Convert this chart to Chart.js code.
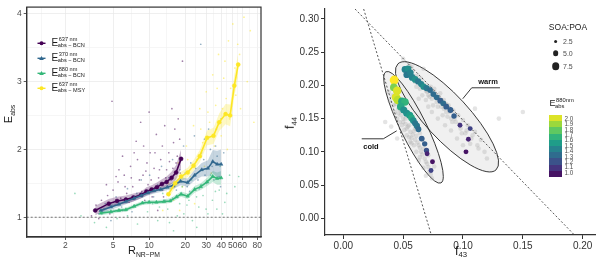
<!DOCTYPE html>
<html>
<head>
<meta charset="utf-8">
<script src="https://cdn.jsdelivr.net/npm/chart.js@4.4.1/dist/chart.umd.min.js"></script>
<style>
body{margin:0;background:#fff;font-family:"Liberation Sans",Arial,sans-serif;}
#wrap{position:relative;width:600px;height:267px;overflow:hidden;background:#fff;}
#wrap canvas{position:absolute;top:0;}
.lbl{position:absolute;white-space:nowrap;color:#1a1a1a;line-height:1;pointer-events:none;}
.lbl sub{font-size:0.62em;vertical-align:-0.35em;line-height:1;}
.rot{transform:translate(-50%,-50%) rotate(-90deg);}
.ctr{transform:translate(-50%,-50%);}
.leg{display:flex;align-items:center;}
.leg .E{font-size:10px;}
.ss{display:inline-flex;flex-direction:column;font-size:5.6px;line-height:1.05;margin-left:0.5px;}
.ss .sb{margin-left:-1px;}
.dot{position:absolute;border-radius:50%;background:#222;transform:translate(-50%,-50%);}
.small{font-size:7px;color:#4d4d4d;}
.cbar{position:absolute;left:549px;top:115px;width:13px;height:62px;display:flex;flex-direction:column;}
.cbar div{flex:1;}
</style>
</head>
<body>
<div id="wrap">
  <canvas id="leftChart" width="300" height="267" style="left:0;width:300px;height:267px"></canvas>
  <canvas id="rightChart" width="300" height="267" style="left:300px;width:300px;height:267px"></canvas>

  <!-- left panel texts -->
  <div class="lbl rot" style="left:10px;top:114px;font-size:11px">E<sub>abs</sub></div>
  <div class="lbl ctr" style="left:144px;top:252px;font-size:11px">R<sub>NR−PM</sub></div>
  <div class="lbl leg" style="left:51.5px;top:37px"><span class="E">E</span><span class="ss"><span>637 nm</span><span class="sb">abs − BCN</span></span></div>
  <div class="lbl leg" style="left:51.5px;top:52px"><span class="E">E</span><span class="ss"><span>370 nm</span><span class="sb">abs − BCN</span></span></div>
  <div class="lbl leg" style="left:51.5px;top:67px"><span class="E">E</span><span class="ss"><span>880 nm</span><span class="sb">abs − BCN</span></span></div>
  <div class="lbl leg" style="left:51.5px;top:82px"><span class="E">E</span><span class="ss"><span>637 nm</span><span class="sb">abs − MSY</span></span></div>

  <!-- right panel texts -->
  <div class="lbl rot" style="left:291px;top:123px;font-size:12.5px">f<sub>44</sub></div>
  <div class="lbl ctr" style="left:461px;top:252px;font-size:12.5px">f<sub>43</sub></div>
  <div class="lbl ctr" style="left:568px;top:27px;font-size:8.5px;color:#222">SOA:POA</div>
  <div id="sizeLegend"></div>
  <div class="lbl leg" style="left:549.5px;top:97px"><span style="font-size:9px">E</span><span class="ss" style="font-size:5.8px"><span>880nm</span><span class="sb">abs</span></span></div>
  <div class="cbar" id="cbar"></div>
  <div id="cbarLabels"></div>
</div>

<script>
// ---------- left panel: E_abs vs R_NR-PM ----------
const rTicks = [2, 5, 10, 20, 30, 40, 50, 60, 80];
const rMinor = [1.26, 3.16, 7.07, 14.1, 24.5, 34.6, 44.7, 54.8, 69.3];
const eTicks = [1, 2, 3, 4];
const eMinor = [1.5, 2.5, 3.5];

const bcn637X = [3.55, 4.6, 5.4, 6.4, 7.4, 8.6, 9.5, 10.5, 11.6, 12.8, 14.0, 15.4, 16.8, 18.5];
const bcn637Y = [1.10, 1.20, 1.24, 1.26, 1.29, 1.33, 1.38, 1.41, 1.44, 1.49, 1.52, 1.58, 1.66, 1.86];
const bcn637Lo = [1.03, 1.13, 1.18, 1.20, 1.23, 1.28, 1.32, 1.35, 1.38, 1.42, 1.44, 1.49, 1.56, 1.72];
const bcn637Hi = [1.17, 1.27, 1.30, 1.32, 1.35, 1.38, 1.44, 1.47, 1.51, 1.56, 1.60, 1.67, 1.77, 2.00];

const bcn370X = [3.95, 4.8, 5.6, 6.4, 7.5, 8.6, 9.8, 11.0, 12.5, 14.2, 16.0, 18.3, 21.0, 24.0, 27.5, 31.0, 34.0, 37.0, 40.0];
const bcn370Y = [1.10, 1.15, 1.19, 1.23, 1.28, 1.32, 1.36, 1.39, 1.41, 1.44, 1.47, 1.53, 1.51, 1.62, 1.70, 1.72, 1.82, 1.78, 1.78];
const bcn370Lo = [1.06, 1.11, 1.15, 1.19, 1.24, 1.28, 1.32, 1.35, 1.37, 1.40, 1.42, 1.47, 1.45, 1.54, 1.60, 1.60, 1.65, 1.58, 1.55];
const bcn370Hi = [1.14, 1.19, 1.23, 1.27, 1.32, 1.36, 1.40, 1.43, 1.45, 1.48, 1.52, 1.59, 1.57, 1.70, 1.80, 1.84, 1.99, 1.98, 2.00];

const bcn880X = [3.95, 4.8, 5.6, 6.4, 7.5, 8.8, 10.0, 11.5, 13.3, 15.0, 17.0, 18.5, 21.0, 24.0, 27.0, 30.5, 34.0, 37.0, 40.0];
const bcn880Y = [1.06, 1.08, 1.10, 1.11, 1.16, 1.21, 1.22, 1.22, 1.23, 1.24, 1.30, 1.34, 1.31, 1.41, 1.45, 1.52, 1.60, 1.57, 1.58];
const bcn880Lo = [1.03, 1.05, 1.07, 1.08, 1.13, 1.18, 1.19, 1.19, 1.20, 1.21, 1.26, 1.30, 1.27, 1.36, 1.40, 1.46, 1.52, 1.48, 1.48];
const bcn880Hi = [1.09, 1.11, 1.13, 1.14, 1.19, 1.24, 1.25, 1.25, 1.26, 1.28, 1.34, 1.38, 1.35, 1.46, 1.50, 1.58, 1.68, 1.66, 1.68];

const msy637X = [14.5, 16.5, 18.5, 21.0, 23.5, 26.5, 30.5, 34.5, 38.5, 43.5, 47.5, 51.5, 55.5];
const msy637Y = [1.34, 1.50, 1.60, 1.66, 1.76, 1.90, 2.17, 2.20, 2.40, 2.52, 2.50, 2.94, 3.25];
const msy637Lo = [1.28, 1.43, 1.53, 1.59, 1.68, 1.81, 2.06, 2.08, 2.27, 2.37, 2.34, 2.78, 3.08];
const msy637Hi = [1.40, 1.57, 1.67, 1.73, 1.84, 1.99, 2.28, 2.32, 2.53, 2.67, 2.66, 3.10, 3.42];

// raw observations (a readable subset of the cloud)
const bcn637Raw = [[3.3,1.02],[3.6,1.18],[3.8,0.98],[4.0,1.25],[4.2,1.12],[4.5,1.32],[4.7,1.05],[4.9,2.71],[5.0,1.40],[5.2,1.18],[5.5,1.52],[5.8,1.28],[6.0,1.10],[6.2,1.62],[6.5,1.35],[6.8,1.22],[7.0,1.75],[7.3,1.45],[7.6,1.30],[8.0,1.85],[8.3,1.55],[8.7,1.38],[9.0,2.05],[9.4,1.68],[9.8,1.48],[10.2,1.95],[10.6,1.30],[11.0,1.72],[11.5,2.22],[12.0,1.58],[12.5,1.85],[13.0,1.40],[13.5,2.35],[14.0,1.70],[14.6,1.95],[15.2,1.55],[16.0,2.10],[16.8,1.80],[17.5,2.45],[18.2,1.65],[19.0,3.30],[8.5,2.40],[6.0,1.90],[11.8,1.10],[15.5,2.60],
  [4.4,1.48],[5.6,1.70],[6.3,1.45],[7.1,1.58],[7.8,2.12],[8.9,1.62],[9.6,1.80],[10.4,1.55],[11.2,1.95],[12.2,1.70],[12.9,2.05],[13.8,1.58],[14.8,1.82],[15.8,1.72],[16.4,2.30],[17.2,1.90],[18.0,2.15],[18.8,1.85],[10.0,2.55],[7.5,1.95],[5.3,1.60],[9.2,1.25],[13.2,1.30],[16.2,1.45]];
const bcn370Raw = [[3.8,1.05],[4.3,1.20],[4.8,0.95],[5.3,1.30],[5.9,1.15],[6.6,1.42],[7.2,1.08],[7.9,1.35],[8.6,1.55],[9.3,1.22],[10.1,1.62],[10.9,1.30],[11.8,1.48],[12.7,1.75],[13.6,1.25],[14.6,1.58],[15.7,1.85],[16.9,1.40],[18.1,1.70],[19.4,2.05],[20.8,1.45],[22.3,1.80],[23.9,2.20],[25.6,1.55],[27.4,1.95],[29.3,1.62],[31.4,2.30],[33.6,1.75],[35.9,2.05],[38.4,1.60],[40.0,2.45],[27.0,3.55],[42.0,1.95],
  [20.0,1.65],[21.8,1.38],[24.5,1.72],[26.2,1.42],[28.6,1.85],[30.2,1.50],[32.5,2.00],[34.8,1.55],[37.0,1.90],[39.5,1.45],[36.5,2.30],[29.0,2.15]];
const bcn880Raw = [[3.5,0.92],[3.9,1.10],[4.4,0.85],[4.9,1.18],[5.4,0.98],[6.0,1.25],[6.6,1.02],[7.3,1.15],[8.0,0.90],[8.8,1.30],[9.7,1.08],[10.7,1.20],[11.8,0.95],[13.0,1.35],[14.3,1.12],[15.7,1.28],[17.2,1.02],[18.9,1.45],[20.7,1.18],[22.7,1.55],[24.9,1.30],[27.3,1.48],[29.9,1.12],[32.7,1.62],[35.8,1.38],[39.2,1.75],[42.9,1.22],[47.0,1.62],[52.0,1.45],[56.0,1.60],[2.7,1.02],[2.4,1.35],[16.0,0.80],[25.0,0.85],
  [19.5,1.05],[21.5,1.25],[23.0,0.95],[26.0,1.15],[28.2,1.32],[31.0,1.05],[33.8,1.25],[36.8,1.12],[38.5,1.40],[41.0,1.05],[44.5,1.35],[18.0,1.20],[14.8,0.92],[12.2,1.15]];
const msy637Raw = [[13.0,1.10],[14.5,1.50],[16.0,1.25],[17.5,1.80],[19.0,1.45],[20.5,2.05],[22.0,1.60],[23.5,2.35],[25.0,1.85],[26.5,2.60],[28.0,2.10],[30.0,2.85],[32.0,2.40],[34.0,3.10],[36.0,2.65],[38.0,3.40],[40.0,2.20],[42.0,3.05],[44.0,2.75],[46.0,3.60],[48.0,2.90],[50.0,3.85],[52.0,3.20],[55.0,3.55],[58.0,2.60],[62.0,3.95],[66.0,3.00],[70.0,3.75],[75.0,2.40],[18.0,1.10],[24.0,1.20],[33.0,1.65],[45.0,2.00],
  [21.0,1.85],[27.0,2.30],[29.0,1.75],[31.0,2.55],[35.0,2.05],[37.0,2.90],[41.0,2.60],[43.0,3.30],[47.0,2.45],[53.0,2.80],[57.0,3.40]];

const refLineE = 1;

// ---------- right panel: f44 vs f43 ----------
const f43Ticks = [0, 0.05, 0.10, 0.15, 0.20];
const f44Ticks = [0, 0.05, 0.10, 0.15, 0.20, 0.25, 0.30];

const coldF43 = [0.0425, 0.0422, 0.0450, 0.0440, 0.0455, 0.0490, 0.0515, 0.0480, 0.0505, 0.0530, 0.0555, 0.0570, 0.0585, 0.0600, 0.0615, 0.0628, 0.0655, 0.0680, 0.0695, 0.0700, 0.0745, 0.0733];
const coldF44 = [0.208, 0.197, 0.192, 0.182, 0.178, 0.176, 0.175, 0.168, 0.163, 0.158, 0.155, 0.151, 0.147, 0.143, 0.139, 0.134, 0.120, 0.112, 0.102, 0.097, 0.085, 0.072];
const coldEabs = [2.0, 1.8, 1.95, 1.95, 1.9, 1.6, 1.65, 1.6, 1.5, 1.5, 1.55, 1.6, 1.5, 1.4, 1.4, 1.35, 1.3, 1.3, 1.25, 1.1, 1.05, 1.2];
const coldSoaPoa = [7.5, 6, 7, 7, 7, 6, 6, 6, 5.5, 5.5, 5.5, 5, 5, 4.5, 4.5, 4, 4, 3.5, 3.5, 3, 3, 3];

const warmF43 = [0.0515, 0.0540, 0.0530, 0.0560, 0.0575, 0.0600, 0.0625, 0.0650, 0.0670, 0.0695, 0.0725, 0.0752, 0.0780, 0.0810, 0.0835, 0.0860, 0.0895, 0.0925, 0.0975, 0.1060, 0.1045, 0.1025];
const warmF44 = [0.224, 0.225, 0.216, 0.219, 0.212, 0.209, 0.206, 0.202, 0.198, 0.196, 0.193, 0.187, 0.182, 0.177, 0.173, 0.168, 0.163, 0.154, 0.140, 0.135, 0.119, 0.100];
const warmEabs = [1.45, 1.5, 1.4, 1.45, 1.45, 1.5, 1.4, 1.45, 1.5, 1.4, 1.35, 1.35, 1.35, 1.3, 1.35, 1.3, 1.3, 1.3, 1.15, 1.2, 1.1, 1.05];
const warmSoaPoa = [5, 5, 5, 5, 5, 5, 4.5, 4.5, 4.5, 4.5, 4, 4, 4, 4, 4, 4, 4, 3.5, 3, 3, 3, 3];

const allSamples = [[0.038,0.19],[0.041,0.185],[0.044,0.172],[0.046,0.165],[0.043,0.160],[0.048,0.155],[0.050,0.150],[0.047,0.145],[0.052,0.142],[0.054,0.138],[0.051,0.133],[0.056,0.130],[0.058,0.126],[0.055,0.122],[0.060,0.118],[0.062,0.114],[0.059,0.110],[0.064,0.106],[0.061,0.100],[0.066,0.096],[0.068,0.090],[0.063,0.087],[0.070,0.082],[0.067,0.076],[0.072,0.070],[0.069,0.064],[0.074,0.060],[0.045,0.150],[0.049,0.140],[0.053,0.125],[0.057,0.113],[0.060,0.135],[0.064,0.128],[0.035,0.145],[0.040,0.138],[0.071,0.095],[0.066,0.118],[0.058,0.147],[0.062,0.140],[0.076,0.078],
  [0.042,0.170],[0.046,0.158],[0.050,0.145],[0.053,0.135],[0.055,0.140],[0.057,0.121],[0.061,0.124],[0.063,0.110],[0.065,0.100],[0.067,0.105],[0.069,0.085],[0.071,0.077],[0.048,0.162],[0.052,0.150],[0.059,0.131],[0.044,0.178],[0.039,0.176],[0.064,0.092],[0.073,0.066],[0.056,0.115],
  [0.055,0.230],[0.058,0.222],[0.062,0.215],[0.060,0.205],[0.065,0.210],[0.068,0.200],[0.064,0.195],[0.070,0.190],[0.073,0.198],[0.072,0.183],[0.076,0.190],[0.078,0.175],[0.075,0.170],[0.080,0.182],[0.082,0.168],[0.084,0.178],[0.086,0.160],[0.083,0.155],[0.088,0.170],[0.090,0.150],[0.092,0.162],[0.094,0.145],[0.096,0.155],[0.098,0.135],[0.100,0.148],[0.102,0.128],[0.104,0.140],[0.107,0.120],[0.110,0.130],[0.112,0.110],[0.115,0.118],[0.118,0.100],[0.120,0.090],[0.069,0.178],[0.074,0.160],[0.079,0.150],[0.085,0.140],[0.090,0.132],[0.095,0.120],[0.100,0.110],[0.066,0.185],[0.071,0.168],[0.063,0.180],[0.067,0.225],[0.050,0.240],[0.130,0.150],[0.150,0.160],[0.110,0.165],[0.045,0.120],
  [0.059,0.214],[0.061,0.198],[0.066,0.203],[0.069,0.192],[0.071,0.185],[0.074,0.180],[0.077,0.183],[0.079,0.168],[0.081,0.175],[0.084,0.165],[0.087,0.153],[0.089,0.160],[0.091,0.145],[0.093,0.150],[0.097,0.142],[0.099,0.128],[0.103,0.132],[0.106,0.112],[0.108,0.125],[0.113,0.105],[0.076,0.195],[0.081,0.188],[0.086,0.172],[0.057,0.228],[0.053,0.218]];

// triangle (Ng et al.) boundaries
const triLeftF43 = [0.017, 0.0735];
const triLeftF44 = [0.315, -0.025];
const triRightF43 = [0.0098, 0.193];
const triRightF44 = [0.315, -0.025];

// ellipses: [tip, tip, point on the minor axis]
const coldEllipseF43 = [0.0357, 0.0816, 0.0683];
const coldEllipseF44 = [0.2206, 0.0532, 0.1456];
const warmEllipseF43 = [0.0457, 0.1276, 0.1001];
const warmEllipseF44 = [0.2326, 0.0728, 0.1752];

const coldLeaderF43 = [0.0154, 0.0334, 0.0446];
const coldLeaderF44 = [0.1196, 0.1196, 0.1316];
const warmLeaderF43 = [0.1309, 0.1073, 0.0998];
const warmLeaderF44 = [0.1964, 0.1964, 0.1799];

const soaLegend = [2.5, 5.0, 7.5];
const eabsBins = [2.0, 1.9, 1.8, 1.7, 1.6, 1.5, 1.4, 1.3, 1.2, 1.1, 1.0];

// ---------- helpers ----------
const FONT = '"Liberation Sans", Arial, sans-serif';
const viridisStops = ['#440154', '#482878', '#3e4a89', '#31688e', '#26828e', '#1f9e89', '#35b779', '#6dcd59', '#b4de2c', '#fde725'];

function hexToRgb(h) {
    return [parseInt(h.slice(1, 3), 16), parseInt(h.slice(3, 5), 16), parseInt(h.slice(5, 7), 16)];
}
function viridis(t) {
    t = Math.max(0, Math.min(1, t));
    const pos = t * (viridisStops.length - 1);
    const i = Math.min(Math.floor(pos), viridisStops.length - 2);
    const f = pos - i;
    const a = hexToRgb(viridisStops[i]), b = hexToRgb(viridisStops[i + 1]);
    return 'rgb(' + a.map((v, k) => Math.round(v + (b[k] - v) * f)).join(',') + ')';
}
function rgba(hex, a) {
    const c = hexToRgb(hex);
    return 'rgba(' + c.join(',') + ',' + a + ')';
}
function pts(xs, ys) { return xs.map((x, i) => ({ x: x, y: ys[i] })); }
function pairs(arr) { return arr.map(p => ({ x: p[0], y: p[1] })); }
function soaRadius(s) { return 1.1 + 0.45 * s; }

// ---------- left chart ----------
const leftSeries = [
    { x: bcn637X, y: bcn637Y, lo: bcn637Lo, hi: bcn637Hi, raw: bcn637Raw, color: '#440154', shape: 'circle' },
    { x: bcn370X, y: bcn370Y, lo: bcn370Lo, hi: bcn370Hi, raw: bcn370Raw, color: '#31688e', shape: 'triangle' },
    { x: bcn880X, y: bcn880Y, lo: bcn880Lo, hi: bcn880Hi, raw: bcn880Raw, color: '#35b779', shape: 'triangle' },
    { x: msy637X, y: msy637Y, lo: msy637Lo, hi: msy637Hi, raw: msy637Raw, color: '#fde725', shape: 'circle' }
];

const leftDatasets = [];
leftSeries.forEach(s => {
    leftDatasets.push({
        data: pairs(s.raw), showLine: false, pointRadius: 0.85, pointBorderWidth: 0,
        pointBackgroundColor: rgba(s.color, 0.5), order: 30
    });
});
leftSeries.forEach(s => {
    leftDatasets.push({ data: pts(s.x, s.lo), borderWidth: 0, pointRadius: 0, fill: false, order: 20 });
    leftDatasets.push({ data: pts(s.x, s.hi), borderWidth: 0, pointRadius: 0, fill: '-1',
        backgroundColor: rgba(s.color, 0.28), order: 20 });
});
leftSeries.forEach((s, i) => {
    leftDatasets.push({
        data: pts(s.x, s.y), borderColor: s.color, borderWidth: 1.6, tension: 0,
        pointRadius: 2, pointStyle: s.shape, pointBackgroundColor: s.color, pointBorderColor: s.color,
        pointBorderWidth: 0.5, fill: false, order: 10 - i
    });
});

const leftDecor = {
    id: 'leftDecor',
    beforeDatasetsDraw(chart) {
        const ctx = chart.ctx, a = chart.chartArea;
        const y = chart.scales.y.getPixelForValue(refLineE);
        ctx.save();
        ctx.strokeStyle = '#555';
        ctx.lineWidth = 0.8;
        ctx.setLineDash([2, 2]);
        ctx.beginPath();
        ctx.moveTo(a.left, y);
        ctx.lineTo(a.right, y);
        ctx.stroke();
        ctx.restore();
    },
    afterDraw(chart) {
        const ctx = chart.ctx, a = chart.chartArea;
        ctx.save();
        ctx.strokeStyle = '#333';
        ctx.lineWidth = 1.2;
        ctx.strokeRect(a.left, a.top, a.right - a.left, a.bottom - a.top);
        // legend keys
        leftSeries.forEach((s, i) => {
            const cx = 41.5, cy = 43.3 + i * 15;
            ctx.strokeStyle = s.color;
            ctx.fillStyle = s.color;
            ctx.lineWidth = 1.4;
            ctx.beginPath();
            ctx.moveTo(cx - 4, cy);
            ctx.lineTo(cx + 4, cy);
            ctx.stroke();
            ctx.beginPath();
            if (s.shape === 'triangle') {
                ctx.moveTo(cx, cy - 2.4);
                ctx.lineTo(cx + 2.3, cy + 1.6);
                ctx.lineTo(cx - 2.3, cy + 1.6);
                ctx.closePath();
            } else {
                ctx.arc(cx, cy, 2, 0, Math.PI * 2);
            }
            ctx.fill();
        });
        ctx.restore();
    }
};

new Chart(document.getElementById('leftChart'), {
    type: 'line',
    data: { datasets: leftDatasets },
    options: {
        responsive: false,
        animation: false,
        layout: { padding: { left: 0, top: 5, right: 39, bottom: 0 } },
        plugins: { legend: { display: false }, tooltip: { enabled: false } },
        scales: {
            x: {
                type: 'logarithmic', min: 0.95, max: 86,
                afterBuildTicks: s => {
                    s.ticks = rMinor.map(v => ({ value: v, minor: true }))
                        .concat(rTicks.map(v => ({ value: v })))
                        .sort((p, q) => p.value - q.value);
                },
                afterFit: s => { s.height = 30; },
                ticks: {
                    autoSkip: false, maxRotation: 0, padding: 1,
                    font: { size: 8.5, family: FONT }, color: '#4d4d4d',
                    callback: (v, i, t) => t[i].minor ? '' : String(v)
                },
                grid: {
                    color: c => (c.tick && c.tick.minor) ? '#f2f2f2' : '#e8e8e8',
                    lineWidth: 0.7, tickLength: 3, tickWidth: 0.8,
                    tickColor: c => (c.tick && c.tick.minor) ? 'rgba(0,0,0,0)' : '#333'
                },
                border: { color: '#333', width: 1.2 }
            },
            y: {
                type: 'linear', min: 0.708, max: 4.098,
                afterBuildTicks: s => {
                    s.ticks = eMinor.map(v => ({ value: v, minor: true }))
                        .concat(eTicks.map(v => ({ value: v })))
                        .sort((p, q) => p.value - q.value);
                },
                afterFit: s => { s.width = 26.7; },
                ticks: {
                    autoSkip: false, padding: 2,
                    font: { size: 8.5, family: FONT }, color: '#4d4d4d',
                    callback: (v, i, t) => t[i].minor ? '' : String(v)
                },
                grid: {
                    color: c => (c.tick && c.tick.minor) ? '#f2f2f2' : '#e8e8e8',
                    lineWidth: 0.7, tickLength: 3, tickWidth: 0.8,
                    tickColor: c => (c.tick && c.tick.minor) ? 'rgba(0,0,0,0)' : '#333'
                },
                border: { color: '#333', width: 1.2 }
            }
        }
    },
    plugins: [leftDecor]
});

// ---------- right chart ----------
function ellipsePath(ctx, xs, ys, f43s, f44s) {
    const p1 = [xs.getPixelForValue(f43s[0]), ys.getPixelForValue(f44s[0])];
    const p2 = [xs.getPixelForValue(f43s[1]), ys.getPixelForValue(f44s[1])];
    const ps = [xs.getPixelForValue(f43s[2]), ys.getPixelForValue(f44s[2])];
    const cx = (p1[0] + p2[0]) / 2, cy = (p1[1] + p2[1]) / 2;
    const dx = p2[0] - p1[0], dy = p2[1] - p1[1];
    const len = Math.hypot(dx, dy);
    const ux = dx / len, uy = dy / len;
    const b = Math.abs((ps[0] - cx) * uy - (ps[1] - cy) * ux);
    ctx.beginPath();
    ctx.ellipse(cx, cy, len / 2, b, Math.atan2(dy, dx), 0, Math.PI * 2);
}

const rightDecor = {
    id: 'rightDecor',
    beforeDatasetsDraw(chart) {
        const ctx = chart.ctx, xs = chart.scales.x, ys = chart.scales.y;
        ctx.save();
        ctx.fillStyle = 'rgba(235,235,235,0.75)';
        ellipsePath(ctx, xs, ys, warmEllipseF43, warmEllipseF44); ctx.fill();
        ellipsePath(ctx, xs, ys, coldEllipseF43, coldEllipseF44); ctx.fill();
        ctx.strokeStyle = '#222';
        ctx.lineWidth = 0.9;
        ellipsePath(ctx, xs, ys, warmEllipseF43, warmEllipseF44); ctx.stroke();
        ellipsePath(ctx, xs, ys, coldEllipseF43, coldEllipseF44); ctx.stroke();
        ctx.restore();
    },
    afterDatasetsDraw(chart) {
        const ctx = chart.ctx, xs = chart.scales.x, ys = chart.scales.y;
        ctx.save();
        ctx.strokeStyle = '#222';
        ctx.lineWidth = 0.9;
        [[coldLeaderF43, coldLeaderF44], [warmLeaderF43, warmLeaderF44]].forEach(l => {
            ctx.beginPath();
            l[0].forEach((v, i) => {
                const px = xs.getPixelForValue(v), py = ys.getPixelForValue(l[1][i]);
                if (i === 0) ctx.moveTo(px, py); else ctx.lineTo(px, py);
            });
            ctx.stroke();
        });
        ctx.fillStyle = '#111';
        ctx.font = 'bold 7.5px ' + FONT;
        ctx.textAlign = 'center';
        ctx.textBaseline = 'middle';
        ctx.fillText('cold', xs.getPixelForValue(0.0231), ys.getPixelForValue(0.1067));
        ctx.fillText('warm', xs.getPixelForValue(0.1209), ys.getPixelForValue(0.2047));
        ctx.restore();
    }
};

new Chart(document.getElementById('rightChart'), {
    type: 'scatter',
    data: {
        datasets: [
            { data: pts(coldF43, coldF44), pointRadius: coldSoaPoa.map(soaRadius), pointBorderWidth: 0,
              pointBackgroundColor: coldEabs.map(e => viridis(e - 1)), order: 1 },
            { data: pts(warmF43, warmF44), pointRadius: warmSoaPoa.map(soaRadius), pointBorderWidth: 0,
              pointBackgroundColor: warmEabs.map(e => viridis(e - 1)), order: 2 },
            { data: pts(triLeftF43, triLeftF44), showLine: true, pointRadius: 0, borderColor: '#444',
              borderWidth: 0.9, borderDash: [2, 2], order: 3 },
            { data: pts(triRightF43, triRightF44), showLine: true, pointRadius: 0, borderColor: '#444',
              borderWidth: 0.9, borderDash: [2, 2], order: 3 },
            { data: pairs(allSamples), pointRadius: 2.3, pointBorderWidth: 0,
              pointBackgroundColor: 'rgba(150,150,150,0.26)', order: 5 }
        ]
    },
    options: {
        responsive: false,
        animation: false,
        layout: { padding: { left: 0, top: 9, right: 5, bottom: 0 } },
        plugins: { legend: { display: false }, tooltip: { enabled: false } },
        scales: {
            x: {
                type: 'linear', min: -0.0153, max: 0.2103,
                afterBuildTicks: s => { s.ticks = f43Ticks.map(v => ({ value: v })); },
                afterFit: s => { s.height = 32; },
                ticks: { autoSkip: false, maxRotation: 0, padding: 1, font: { size: 10, family: FONT },
                         color: '#333', callback: v => v.toFixed(2) },
                grid: { drawOnChartArea: false, tickLength: 4, tickColor: '#333', tickWidth: 1 },
                border: { color: '#333', width: 1.2 }
            },
            y: {
                type: 'linear', min: -0.0252, max: 0.315,
                afterBuildTicks: s => { s.ticks = f44Ticks.map(v => ({ value: v })); },
                afterFit: s => { s.width = 25; },
                ticks: { autoSkip: false, padding: 2, font: { size: 10, family: FONT },
                         color: '#333', callback: v => v.toFixed(2) },
                grid: { drawOnChartArea: false, tickLength: 4, tickColor: '#333', tickWidth: 1 },
                border: { color: '#333', width: 1.2 }
            }
        }
    },
    plugins: [rightDecor]
});

// ---------- right legends (size + colour bar) ----------
const sizeLegend = document.getElementById('sizeLegend');
soaLegend.forEach((s, i) => {
    const y = [41.7, 53.3, 66][i];
    const d = document.createElement('div');
    d.className = 'dot';
    const r = soaRadius(s) * 0.85;
    d.style.cssText = 'left:555.7px;top:' + y + 'px;width:' + (2 * r) + 'px;height:' + (2 * r) + 'px';
    sizeLegend.appendChild(d);
    const t = document.createElement('div');
    t.className = 'lbl small';
    t.style.cssText = 'left:563px;top:' + (y - 3.5) + 'px';
    t.textContent = s.toFixed(1);
    sizeLegend.appendChild(t);
});

const cbar = document.getElementById('cbar');
for (let k = 0; k < eabsBins.length - 1; k++) {
    const d = document.createElement('div');
    d.style.background = viridis((eabsBins[k] + eabsBins[k + 1]) / 2 - 1);
    cbar.appendChild(d);
}
const cbarLabels = document.getElementById('cbarLabels');
eabsBins.forEach((v, i) => {
    const t = document.createElement('div');
    t.className = 'lbl';
    t.style.cssText = 'left:564.5px;top:' + (119 + i * 5.37 - 3) + 'px;font-size:6.3px;color:#4d4d4d';
    t.textContent = v.toFixed(1);
    cbarLabels.appendChild(t);
});
</script>
</body>
</html>
